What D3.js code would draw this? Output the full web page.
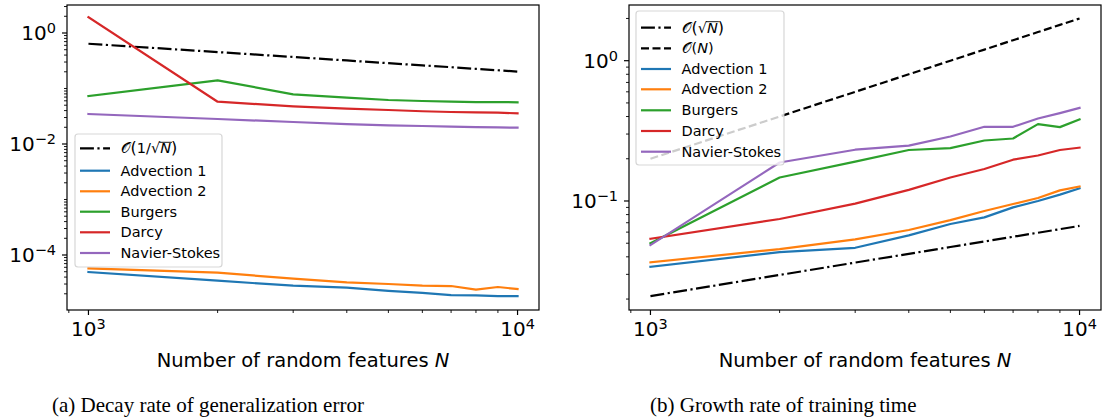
<!DOCTYPE html>
<html>
<head>
<meta charset="utf-8">
<script src="https://cdn.jsdelivr.net/npm/d3@7/dist/d3.min.js"></script>
<style>
  html, body { margin: 0; padding: 0; background: #fff; }
  svg { display: block; font-family: "DejaVu Sans", sans-serif; }
</style>
</head>
<body>
<svg id="chart" width="1102" height="420"></svg>
<script>
// number of random features
var N = [1000, 2000, 3000, 4000, 5000, 6000, 7000, 8000, 9000, 10000];

// (a) generalization error
var errAdvection1 = [4.94e-5, 3.44e-5, 2.80e-5, 2.58e-5, 2.25e-5, 2.07e-5, 1.90e-5, 1.88e-5, 1.82e-5, 1.82e-5];
var errAdvection2 = [5.75e-5, 4.81e-5, 3.74e-5, 3.22e-5, 3.00e-5, 2.80e-5, 2.76e-5, 2.37e-5, 2.65e-5, 2.44e-5];
var errBurgers = [0.0733, 0.140, 0.0786, 0.0684, 0.0620, 0.0595, 0.0579, 0.0570, 0.0570, 0.0564];
var errDarcy = [1.92, 0.0578, 0.0478, 0.0433, 0.0410, 0.0389, 0.0377, 0.0372, 0.0367, 0.0357];
var errNavierStokes = [0.0347, 0.0282, 0.0249, 0.0229, 0.0217, 0.0211, 0.0205, 0.0202, 0.0199, 0.0197];
var errRateInvSqrt = [0.640, 0.453, 0.370, 0.320, 0.286, 0.261, 0.242, 0.226, 0.213, 0.202];

// (b) training time
var timeAdvection1 = [0.0340, 0.0432, 0.0464, 0.0569, 0.0685, 0.0764, 0.0900, 0.100, 0.111, 0.123];
var timeAdvection2 = [0.0365, 0.0454, 0.0532, 0.0621, 0.0731, 0.0849, 0.0952, 0.105, 0.119, 0.127];
var timeBurgers = [0.0499, 0.147, 0.191, 0.231, 0.238, 0.270, 0.279, 0.353, 0.336, 0.381];
var timeDarcy = [0.0538, 0.0744, 0.0957, 0.120, 0.147, 0.169, 0.197, 0.211, 0.231, 0.240];
var timeNavierStokes = [0.0485, 0.188, 0.232, 0.248, 0.288, 0.338, 0.338, 0.387, 0.423, 0.461];
var timeRateSqrt = [0.0210, 0.0297, 0.0364, 0.0420, 0.0470, 0.0514, 0.0556, 0.0594, 0.0630, 0.0664];
var timeRateLinear = [0.2, 0.4, 0.6, 0.8, 1.0, 1.2, 1.4, 1.6, 1.8, 2.0];

var seriesNames = ["Advection 1", "Advection 2", "Burgers", "Darcy", "Navier-Stokes"];
var seriesColors = ["#1f77b4", "#ff7f0e", "#2ca02c", "#d62728", "#9467bd"];

var xMajorTicks = [1e3, 1e4];
var errMajorTicks = [1, 1e-2, 1e-4];
var timeMajorTicks = [1, 1e-1];

var xLabelText = "Number of random features ";
var captions = ["(a) Decay rate of generalization error", "(b) Growth rate of training time"];

var svg = d3.select("#chart");

// text pieces laid out one after another, used for mathtext-like labels
function richText(g, x, y, parts) {
    var cx = x, boxes = [];
    parts.forEach(function(p) {
        var t = g.append("text")
            .attr("x", cx)
            .attr("y", y + (p.dy || 0))
            .attr("font-size", p.size || 14.5)
            .attr("font-family", p.family || "DejaVu Sans")
            .attr("font-style", p.italic ? "italic" : "normal")
            .text(p.t);
        var w = t.node().getComputedTextLength();
        boxes.push({x: cx, w: w, p: p});
        cx += w + (p.gap || 0);
    });
    boxes.forEach(function(b) {
        if (b.p.overline) {
            g.append("line")
                .attr("x1", b.x - 1).attr("x2", b.x + b.w + 1)
                .attr("y1", y - 11).attr("y2", y - 11)
                .attr("stroke", "#000").attr("stroke-width", 0.9);
        }
    });
    return cx;
}

function powLabel(g, x, y, v, anchor) {
    var e = Math.round(Math.log10(v));
    var t = g.append("text")
        .attr("x", x).attr("y", y)
        .attr("text-anchor", anchor)
        .attr("font-size", 20);
    t.append("tspan").text("10");
    t.append("tspan").attr("font-size", 14.5).attr("dy", -7)
        .text(e < 0 ? "\u2212" + (-e) : String(e));
}

var calO = {t: "\uD835\uDCAA", family: "DejaVu Serif, Noto Sans, serif", size: 14.5, gap: 1};

function drawPanel(cfg) {
    var g = svg.append("g");
    var x0 = cfg.frame[0], x1 = cfg.frame[1], y0 = cfg.frame[2], y1 = cfg.frame[3];

    // log axes with 5% margins on x
    var x = d3.scaleLog().domain([Math.pow(10, 2.95), Math.pow(10, 4.05)]).range([x0, x1]);
    var y = d3.scaleLog().domain(cfg.yDomain).range([y1, y0]);

    var line = d3.line()
        .x(function(d, i) { return x(N[i]); })
        .y(function(d) { return y(d); });

    var plot = g.append("g");
    plot.append("clipPath").attr("id", cfg.id + "clip")
        .append("rect").attr("x", x0).attr("y", y0).attr("width", x1 - x0).attr("height", y1 - y0);
    var lines = plot.append("g").attr("clip-path", "url(#" + cfg.id + "clip)");

    cfg.refs.forEach(function(r) {
        lines.append("path")
            .attr("d", line(r.values))
            .attr("fill", "none")
            .attr("stroke", "#000")
            .attr("stroke-width", 2.2)
            .attr("stroke-dasharray", r.dash);
    });
    cfg.series.forEach(function(s, i) {
        lines.append("path")
            .attr("d", line(s))
            .attr("fill", "none")
            .attr("stroke", seriesColors[i])
            .attr("stroke-width", 2.2)
            .attr("stroke-linejoin", "round")
            .attr("stroke-linecap", "square");
    });

    // ticks
    var ax = g.append("g");
    var xMinor = [], yMinor = [];
    d3.range(2, 5).forEach(function(k) {
        d3.range(1, 10).forEach(function(m) {
            var v = m * Math.pow(10, k);
            if (x(v) >= x0 && x(v) <= x1 && xMajorTicks.indexOf(v) < 0) xMinor.push(v);
        });
    });
    d3.range(-6, 2).forEach(function(k) {
        d3.range(1, 10).forEach(function(m) {
            var v = m * Math.pow(10, k);
            var isMajor = cfg.yTicks.some(function(t) { return Math.abs(t - v) / t < 1e-9; });
            if (y(v) >= y0 && y(v) <= y1 && !isMajor) yMinor.push(v);
        });
    });

    ax.selectAll(".xmaj").data(xMajorTicks).enter().append("line")
        .attr("x1", function(d) { return x(d); }).attr("x2", function(d) { return x(d); })
        .attr("y1", y1).attr("y2", y1 + 5)
        .attr("stroke", "#000").attr("stroke-width", 1.2);
    ax.selectAll(".xmin").data(xMinor).enter().append("line")
        .attr("x1", function(d) { return x(d); }).attr("x2", function(d) { return x(d); })
        .attr("y1", y1).attr("y2", y1 + 3)
        .attr("stroke", "#000").attr("stroke-width", 0.9);
    ax.selectAll(".ymaj").data(cfg.yTicks).enter().append("line")
        .attr("y1", function(d) { return y(d); }).attr("y2", function(d) { return y(d); })
        .attr("x1", x0).attr("x2", x0 - 5)
        .attr("stroke", "#000").attr("stroke-width", 1.2);
    ax.selectAll(".ymin").data(yMinor).enter().append("line")
        .attr("y1", function(d) { return y(d); }).attr("y2", function(d) { return y(d); })
        .attr("x1", x0).attr("x2", x0 - 3)
        .attr("stroke", "#000").attr("stroke-width", 0.9);

    xMajorTicks.forEach(function(v) { powLabel(ax, x(v), y1 + 26, v, "middle"); });
    cfg.yTicks.forEach(function(v) { powLabel(ax, x0 - 11, y(v) + 7, v, "end"); });

    // frame
    g.append("rect")
        .attr("x", x0).attr("y", y0).attr("width", x1 - x0).attr("height", y1 - y0)
        .attr("fill", "none").attr("stroke", "#000").attr("stroke-width", 1.2);

    // legend
    var lg = g.append("g");
    var L = cfg.legend;
    lg.append("rect")
        .attr("x", L.x).attr("y", L.y).attr("width", L.w).attr("height", L.h)
        .attr("rx", 3)
        .attr("fill", "#fff").attr("fill-opacity", 0.8)
        .attr("stroke", "#ccc").attr("stroke-opacity", 0.8).attr("stroke-width", 1.2);
    var rows = cfg.refs.map(function(r) { return {color: "#000", dash: r.dash, parts: r.label}; })
        .concat(seriesNames.map(function(n, i) { return {color: seriesColors[i], dash: null, parts: [{t: n}]}; }));
    rows.forEach(function(r, i) {
        var ry = L.rowY[i];
        lg.append("line")
            .attr("x1", L.x + 5).attr("x2", L.x + 35)
            .attr("y1", ry).attr("y2", ry)
            .attr("stroke", r.color).attr("stroke-width", 2.2)
            .attr("stroke-dasharray", r.dash);
        richText(lg, L.x + 45.5, ry + 5, r.parts);
    });

    // x label
    var xl = g.append("text")
        .attr("x", (x0 + x1) / 2).attr("y", 367)
        .attr("text-anchor", "middle")
        .attr("font-size", 19.5);
    xl.append("tspan").text(xLabelText);
    xl.append("tspan").attr("font-style", "italic").text("N");

    // caption
    svg.append("text")
        .attr("x", cfg.captionX).attr("y", 412)
        .attr("font-family", "Liberation Serif, serif")
        .attr("font-size", 21)
        .text(cfg.caption);
}

drawPanel({
    id: "a",
    frame: [67, 539, 5, 310],
    yDomain: [Math.pow(10, -4.991), Math.pow(10, 0.5045)],
    yTicks: errMajorTicks,
    series: [errAdvection1, errAdvection2, errBurgers, errDarcy, errNavierStokes],
    refs: [{
        values: errRateInvSqrt, dash: "13.9,3.5,2.2,3.5",
        label: [calO, {t: "(", size: 16}, {t: "1/"}, {t: "\u221A"}, {t: "N", italic: true, overline: true}, {t: ")", size: 16}]
    }],
    legend: {x: 75, y: 134, w: 147, h: 133, rowY: [148.3, 170.7, 191.3, 211.7, 232.3, 253]},
    caption: captions[0],
    captionX: 52
});

drawPanel({
    id: "b",
    frame: [629, 1101, 5, 310],
    yDomain: [Math.pow(10, -1.777), Math.pow(10, 0.397)],
    yTicks: timeMajorTicks,
    series: [timeAdvection1, timeAdvection2, timeBurgers, timeDarcy, timeNavierStokes],
    refs: [{
        values: timeRateSqrt, dash: "13.9,3.5,2.2,3.5",
        label: [calO, {t: "(", size: 16}, {t: "\u221A"}, {t: "N", italic: true, overline: true}, {t: ")", size: 16}]
    }, {
        values: timeRateLinear, dash: "8,3.5",
        label: [calO, {t: "(", size: 14.5}, {t: "N", italic: true}, {t: ")", size: 14.5}]
    }],
    legend: {x: 636, y: 11, w: 148, h: 154, rowY: [27.7, 48.3, 69, 89.3, 110.3, 131, 151.7]},
    caption: captions[1],
    captionX: 650
});
</script>
</body>
</html>
